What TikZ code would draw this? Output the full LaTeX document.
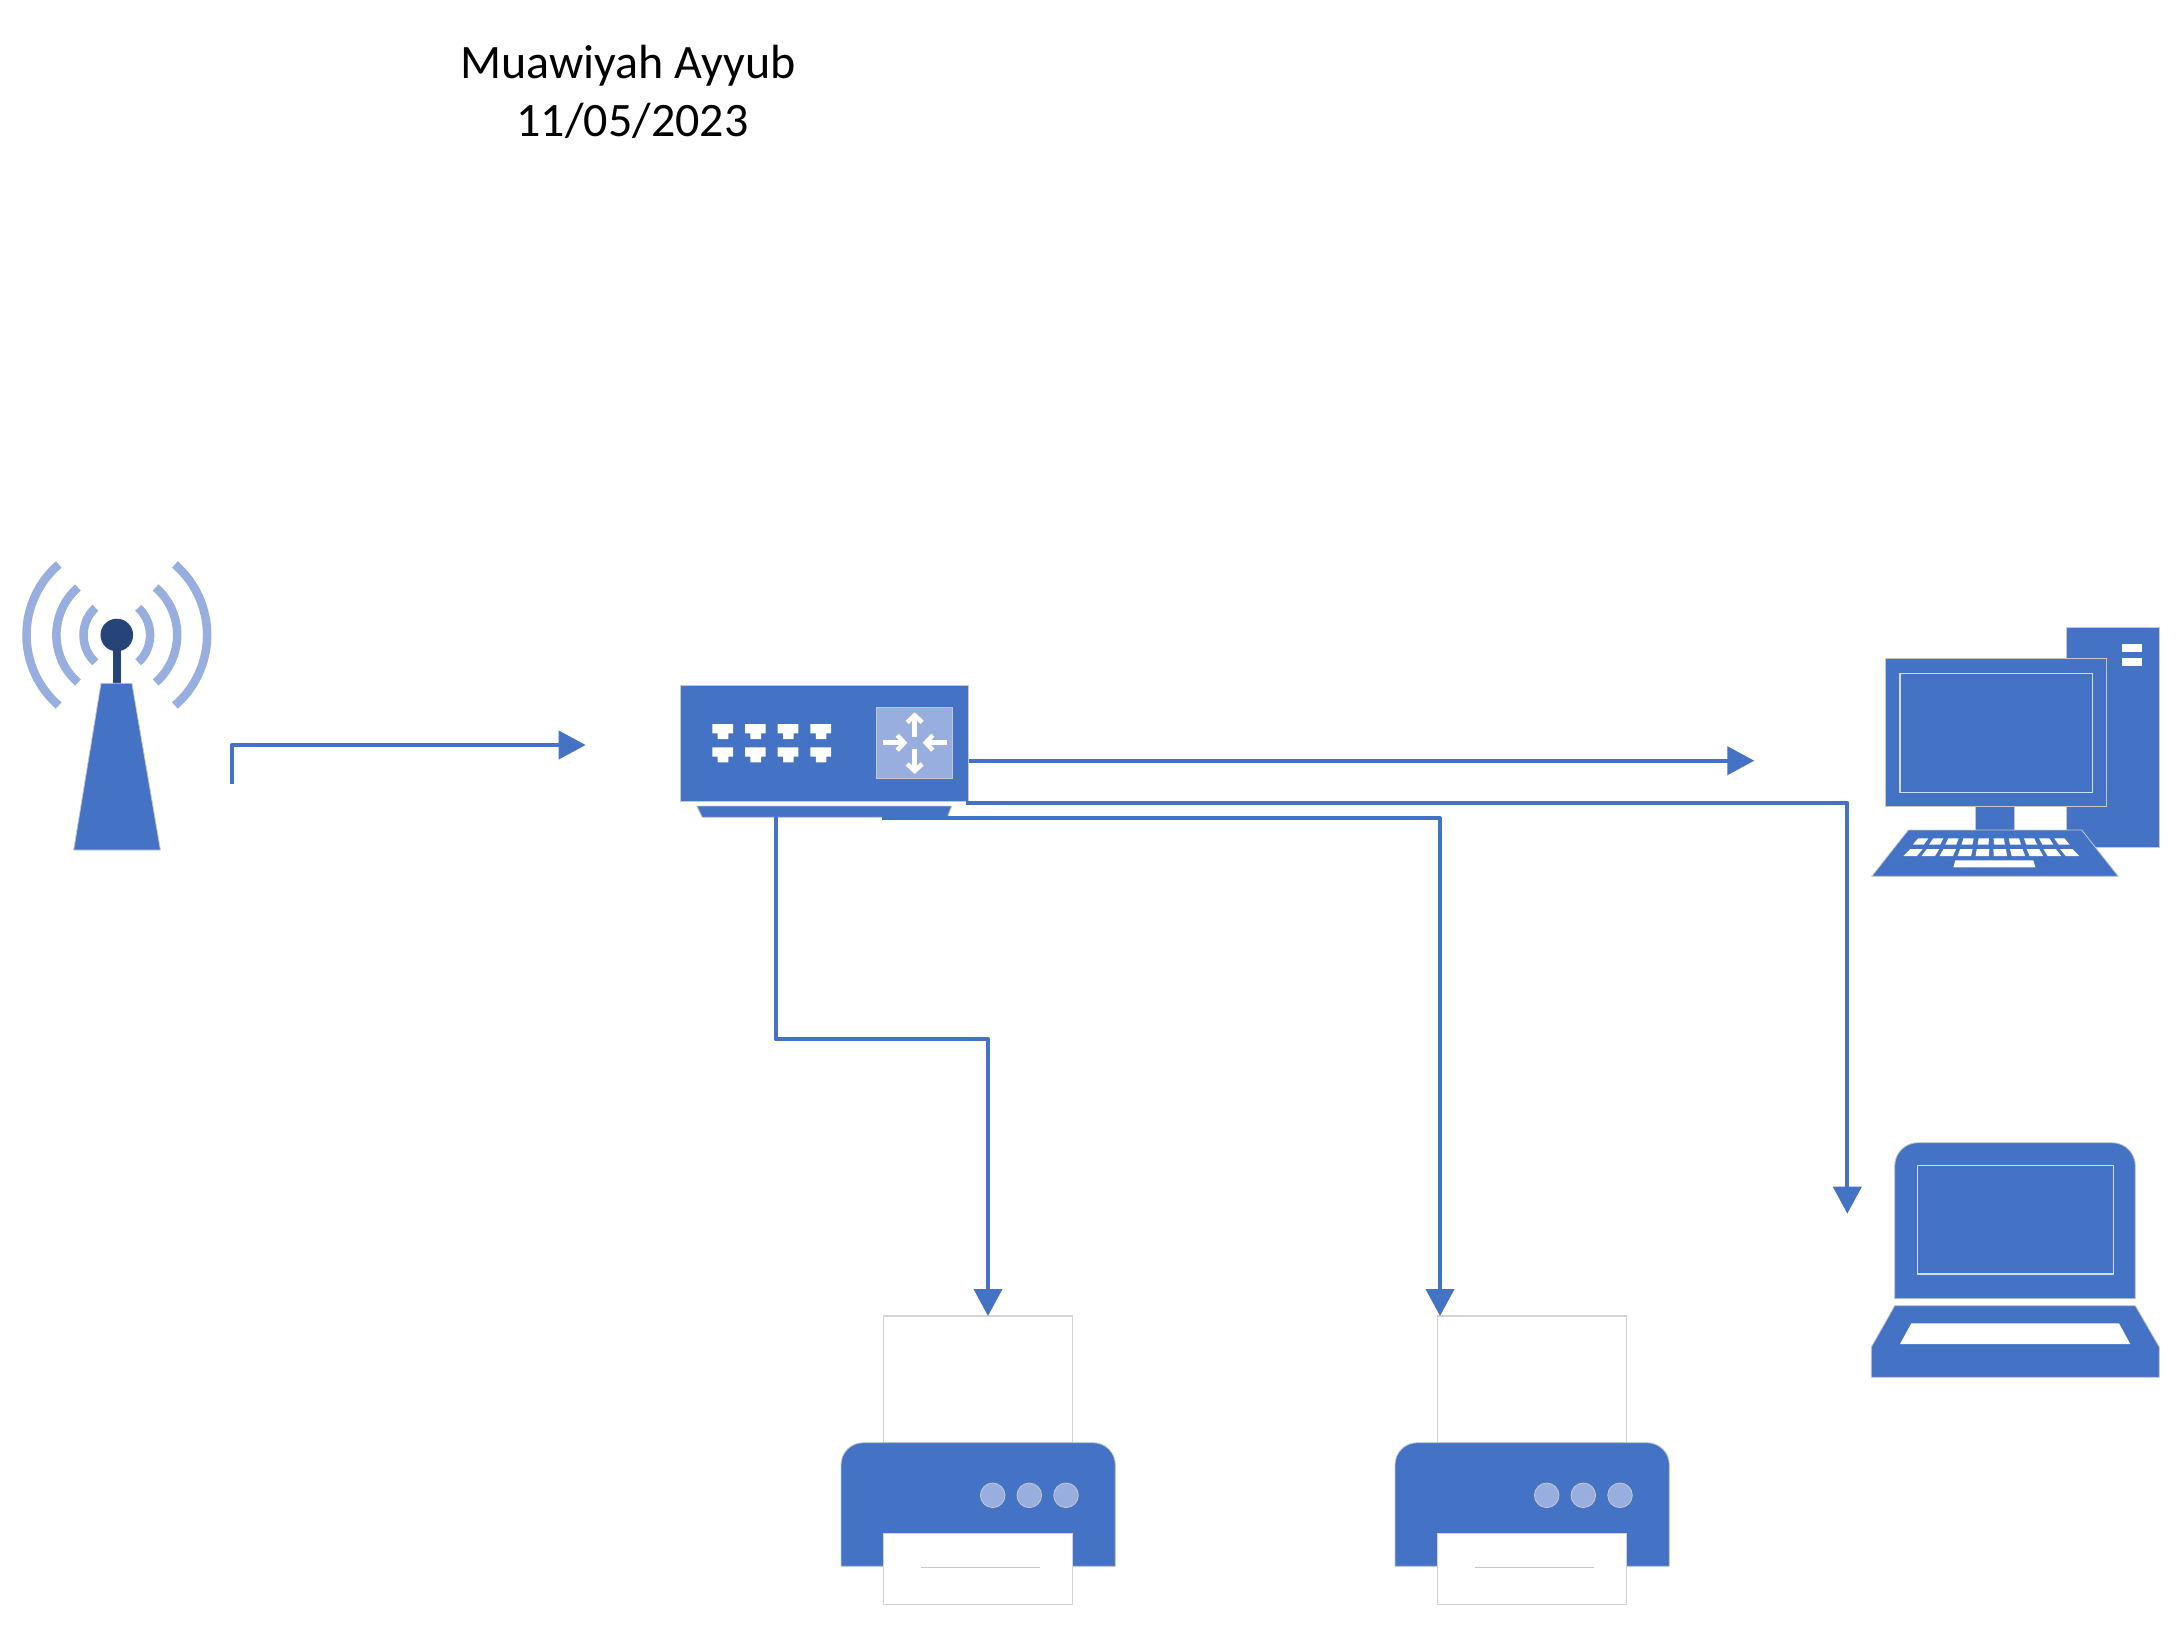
\documentclass[tikz,border=0pt]{standalone}
\usepackage{fontspec}
\setmainfont{Carlito}
\usetikzlibrary{arrows.meta}
\definecolor{netblue}{HTML}{4472C4}
\definecolor{netlight}{HTML}{98AEDE}
\definecolor{netdark}{HTML}{264478}
\definecolor{netedge}{HTML}{C8C8C8}
\tikzset{
  icon/.style={fill=netblue, draw=netedge, line width=0.8pt},
  sheet/.style={fill=white, draw=netedge!80, line width=1.4pt},
  wave/.style={draw=netlight, line width=8.5pt},
  link/.style={draw=netblue, line width=4pt, line join=round, -{Triangle[length=27pt,width=28pt]}},
  hubarrow/.style={draw=white, line width=4.5pt, -{Straight Barb[length=7pt,width=15pt]}},
  label/.style={font=\fontsize{48}{58}\selectfont, text=black, anchor=base, inner sep=0pt}
}
\begin{document}
\begin{tikzpicture}[x=1pt,y=-1pt]
\useasboundingbox (0,0) rectangle (2181,1626);

% Title
\node[label] (author) at (628,78.2) {Muawiyah Ayyub};
\node[label] (date) at (632.5,136.3) {11/05/2023};

% Antenna
\foreach \rx/\ry in {90.3/92,60.4/62,33.3/35.5} {
    \draw[wave] (116.8,635) ++(130:\rx pt and \ry pt) arc[start angle=130,end angle=230,x radius=\rx pt,y radius=\ry pt];
    \draw[wave] (116.8,635) ++(50:\rx pt and \ry pt) arc[start angle=50,end angle=-50,x radius=\rx pt,y radius=\ry pt];
}
\fill[netdark] (112.5,645) rectangle (121.2,684);
\fill[netdark] (116.8,635) ellipse[x radius=16.3pt,y radius=16.3pt];
\draw[icon] (101,683.3) -- (131.9,683.3) -- (160.4,850) -- (73.7,850) -- cycle;

% Router
\node[icon, minimum width=288.3pt, minimum height=116pt, inner sep=0pt] (router) at (824.2,743.7) {};
\draw[icon] (696.7,806) -- (951.7,806) -- (947.3,817.3) -- (702.3,817.3) -- cycle;
\foreach \px in {0,...,3} {
    \foreach \py in {724,747.3} {
        \fill[white] ({712.3+32.7*\px},\py) -- ++(20.7,0) -- ++(0,9.3) -- ++(-4.7,0) -- ++(0,5.7) -- ++(-10.6,0) -- ++(0,-5.7) -- ++(-5.4,0) -- cycle;
    }
}
\node[fill=netlight, draw=netedge, line width=0.8pt, minimum width=75.7pt, minimum height=71.4pt, inner sep=0pt] (hub) at (914.2,743) {};
\draw[hubarrow] (914.7,736.7) -- (914.7,712.3);
\draw[hubarrow] (914.7,749.3) -- (914.7,774);
\draw[hubarrow] (882.7,742.7) -- (907.3,742.7);
\draw[hubarrow] (947.3,742.7) -- (922.7,742.7);

% Desktop computer
\draw[icon] (2066.7,627.3) rectangle (2159.3,847.3);
\fill[white] (2122.3,644) rectangle (2142,651.7);
\fill[white] (2122.3,658) rectangle (2142,665.7);
\draw[icon] (1975.7,800) rectangle (2014.3,832);
\draw[icon] (1885.7,658.7) rectangle (2106.7,806);
\draw[draw=white!75!netblue, line width=1.2pt] (1900,673.3) rectangle (2092.7,792.7);
\draw[icon] (1908.3,830) -- (2081.7,830) -- (2118.3,876.3) -- (1871.7,876.3) -- cycle;
\begin{scope}[shift={(1850,610)},scale=1/3]
\foreach \k in {0,...,9} {
    \fill[white] ({424+(\k*0.162-0.785)*280},685) -- ({424+(\k*0.162-0.675)*280},685) -- ({424+(\k*0.162-0.675)*300},704) -- ({424+(\k*0.162-0.785)*300},704) -- cycle;
    \fill[white] ({424+(\k*0.16-0.78)*312},717) -- ({424+(\k*0.16-0.66)*312},717) -- ({424+(\k*0.16-0.66)*338},738) -- ({424+(\k*0.16-0.78)*338},738) -- cycle;
}
\fill[white] (316,751) -- (550,751) -- (556,772) -- (310,772) -- cycle;
\end{scope}

% Laptop
\draw[icon, rounded corners=23pt] (1894.7,1298.7) -- (1894.7,1142.7) -- (2135.3,1142.7) [sharp corners] -- (2135.3,1298.7) -- cycle;
\draw[draw=white!75!netblue, line width=1.2pt] (1917.7,1165.3) rectangle (2113.3,1274);
\draw[icon] (1894.7,1305.7) -- (2135.3,1305.7) -- (2159.3,1347) -- (2159.3,1377.3) -- (1871.3,1377.3) -- (1871.3,1347) -- cycle;
\fill[white] (1911.3,1323.3) -- (2119,1323.3) -- (2130.3,1344) -- (1900,1344) -- cycle;

% Printers
\foreach \sx/\pname in {0/printerOne,554/printerTwo} {
\begin{scope}[shift={(\sx,0)}]
    \node[sheet, minimum width=188.6pt, minimum height=127pt, inner sep=0pt] (\pname) at (978,1379.5) {};
    \draw[icon, rounded corners=22pt] (841,1566.3) -- (841,1442.7) -- (1115.3,1442.7) [sharp corners] -- (1115.3,1566.3) -- cycle;
    \foreach \cx in {992.7,1029.3,1066} {
        \draw[fill=netlight, draw=netedge, line width=0.8pt] (\cx,1495.3) circle (12.3pt);
    }
    \draw[sheet] (883.7,1533.3) rectangle (1072.3,1604.3);
    \draw[draw=netedge, line width=1pt] (921,1567.3) -- (1040,1567.3);
\end{scope}
}

% Connector ends
\coordinate (towerOut) at (232,784.3);
\coordinate (routerIn) at (585.7,745);
\coordinate (desktopIn) at (1754.3,760.7);
\coordinate (laptopOut) at (966,802.7);
\coordinate (laptopIn) at (1847.3,1213.7);
\coordinate (printerOneOut) at (775.7,817);
\coordinate (printerOneBend) at (988,1039.3);
\coordinate (printerOneIn) at (988,1316);
\coordinate (printerTwoOut) at (881.7,818);
\coordinate (printerTwoIn) at (1440,1316);

% Connectors
\draw[link] (towerOut) |- (routerIn);
\draw[link] (router.east |- desktopIn) -- (desktopIn);
\draw[link] (laptopOut) -| (laptopIn);
\draw[link] (printerTwoOut) -| (printerTwoIn);
\draw[link] (printerOneOut) |- (printerOneBend) -- (printerOneIn);
\end{tikzpicture}
\end{document}
